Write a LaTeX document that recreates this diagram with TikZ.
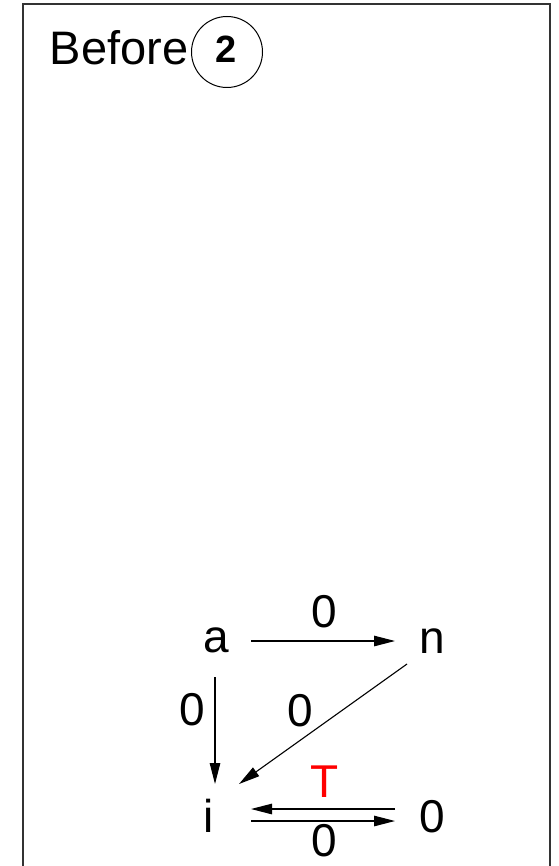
\documentclass[tikz,border=0pt]{standalone}
\usepackage{fontspec}
\setmainfont{Liberation Sans}
\usetikzlibrary{calc,arrows.meta}
\newcommand\lblfont{\fontsize{46}{55}\selectfont}
\newcommand\titlefont{\fontsize{47}{56}\selectfont}
\newcommand\numfont{\fontsize{38}{46}\selectfont\bfseries}
\begin{document}
\begin{tikzpicture}[x=1pt,y=-1pt,
  lbl/.style={inner sep=0pt,anchor=base,font=\lblfont},
  arr/.style={line width=1.1pt,-{Triangle[length=21pt,width=10.5pt]}},
  frameline/.style={line width=1.3pt,draw=black!80}]
\useasboundingbox (0,0) rectangle (558,866);
\draw[frameline] (23,867) -- (23,4) -- (550,4) -- (550,867);
% title
\node[inner sep=0pt,anchor=base,font=\titlefont] (before) at (119,65) {Before};
\node[circle,draw,line width=1pt,minimum size=71pt,inner sep=0pt] (badge) at (227,52) {};
\node[inner sep=0pt,anchor=base,font=\numfont] (two) at (226,63) {2};
% objects
\node[lbl] (a) at (216,652) {a};
\node[lbl] (n) at (432,653) {n};
\node[lbl] (i) at (208.5,832) {i};
\node[lbl] (z) at (432,832) {0};
% arrows
\draw[arr] ($(a.base)+(35,-11)$) -- ($(n.base)+(-37,-12)$);
\draw[arr] ($(a.base)+(-1,25)$) -- ($(i.base)+(6.5,-48)$);
\draw[arr] ($(n.base)+(-25,11)$) -- ($(i.base)+(30.5,-48)$);
\draw[arr] ($(z.base)+(-37,-23)$) -- ($(i.base)+(42.5,-23)$);
\draw[arr] ($(i.base)+(42.5,-11)$) -- ($(z.base)+(-37,-11)$);
% labels
\node[lbl] (lan) at (324,627) {0};
\node[lbl] (lai) at (192,725) {0};
\node[lbl] (lni) at (300,726) {0};
\node[lbl,text=red] (lzi) at (325,797) {T};
\node[lbl] (liz) at (324,856) {0};
\end{tikzpicture}
\end{document}
